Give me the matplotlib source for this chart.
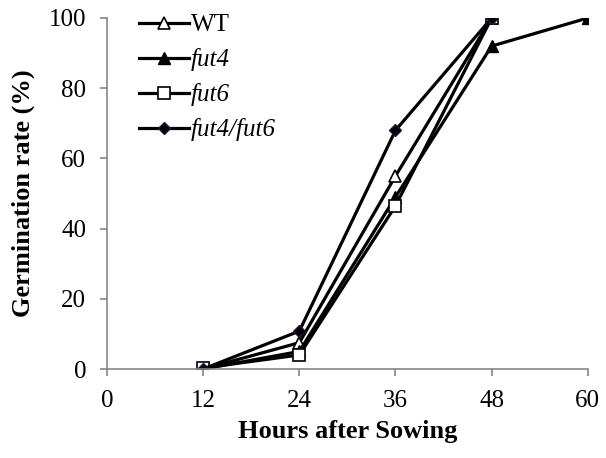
import matplotlib
matplotlib.use("Agg")
import matplotlib.pyplot as plt

plt.rcParams['font.family'] = ['Liberation Serif', 'DejaVu Serif']

hours = [12, 24, 36, 48, 60]
wt = [0, 7.5, 55, 100]
fut4 = [0, 5, 49, 92, 100]
fut6 = [0.3, 4, 46.5, 100]
fut4_fut6 = [0, 10.8, 68, 100]

x_ticks = [0, 12, 24, 36, 48, 60]
y_ticks = [0, 20, 40, 60, 80, 100]

fig = plt.figure(figsize=(6.06, 4.58), dpi=100)
ax = fig.add_axes([0.1766, 0.1943, 0.7934, 0.7664])

lw = 2.3
ax.plot(hours[:4], wt, color='black', lw=lw, marker='^', ms=9,
        mfc='white', mec='black', mew=1.2, label='WT')
ax.plot(hours, fut4, color='black', lw=lw, marker='^', ms=9,
        mfc='black', mec='black', label='fut4')
ax.plot(hours[:4], fut6, color='black', lw=lw, marker='s', ms=9,
        mfc='white', mec='black', mew=1.2, label='fut6')
ax.plot(hours[:4], fut4_fut6, color='black', lw=lw, marker='D', ms=6,
        mfc='black', mec='#2a1040', label='fut4/fut6')

ax.set_xlim(0, 60)
ax.set_ylim(0, 100)
ax.set_xticks(x_ticks)
ax.set_yticks(y_ticks)

for s in ['top', 'right']:
    ax.spines[s].set_visible(False)
for s in ['left', 'bottom']:
    ax.spines[s].set_color('#868686')
    ax.spines[s].set_linewidth(1.2)
ax.tick_params(axis='both', colors='#868686', labelcolor='black',
               labelsize=18, direction='out', length=5, width=1.2)
ax.tick_params(axis='x', pad=10)
ax.tick_params(axis='y', pad=10)

ax.set_xlabel('Hours after Sowing', fontsize=19, fontweight='bold', labelpad=6)
ax.set_ylabel('Germination rate (%)', fontsize=19, fontweight='bold', labelpad=10)

leg = ax.legend(loc='upper left', bbox_to_anchor=(0.045, 1.04), frameon=False,
                fontsize=18, handlelength=2.0, handletextpad=0.1,
                labelspacing=0.48, borderaxespad=0)
for t in leg.get_texts()[1:]:
    t.set_fontstyle('italic')

fig.savefig('out.png', dpi=100)
